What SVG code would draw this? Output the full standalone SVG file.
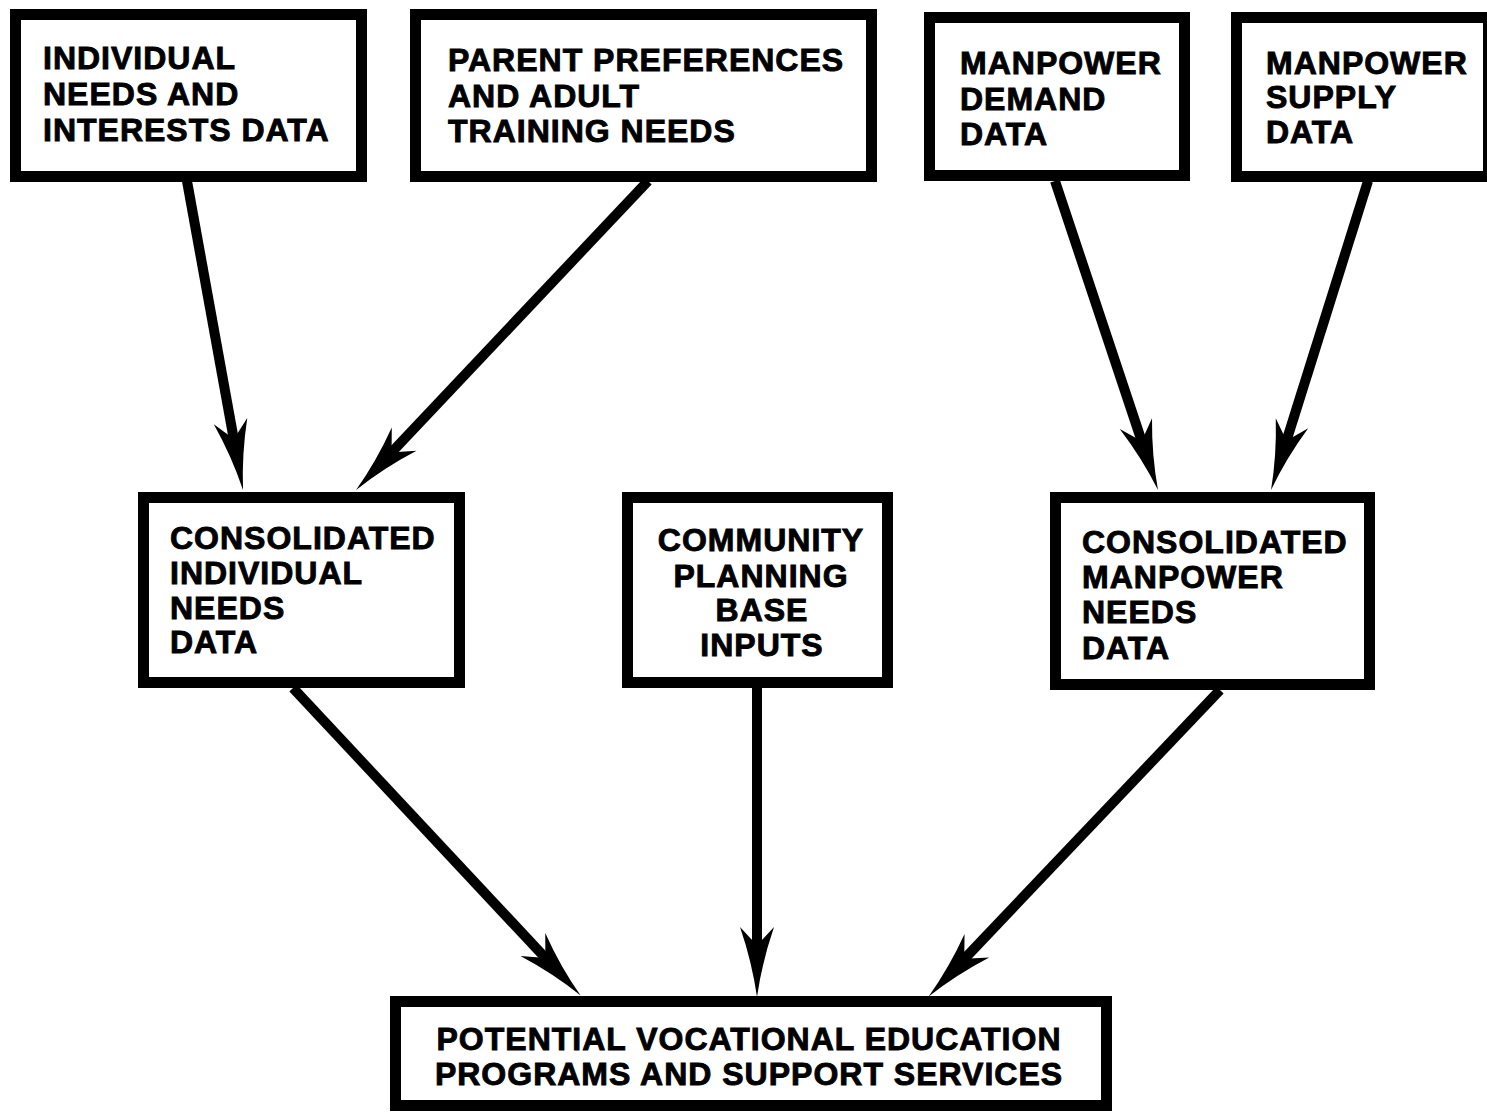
<svg xmlns="http://www.w3.org/2000/svg" width="1487" height="1112" viewBox="0 0 1487 1112">
  <style>
    .box { fill: #fff; stroke: #000; stroke-width: 11; }
    .lbl { font-family: "Liberation Sans", Arial, Helvetica, sans-serif; font-weight: bold; font-size: 32px; letter-spacing: 1px; fill: #000; stroke: #000; stroke-width: 0.9; }
    .mid { text-anchor: middle; }
    .conn { stroke: #000; stroke-width: 10; fill: none; marker-end: url(#barb); }
  </style>
  <defs>
    <marker id="barb" markerUnits="userSpaceOnUse" viewBox="-80 -20 85 40" refX="-50" refY="0" markerWidth="85" markerHeight="40" orient="auto" overflow="visible">
      <path d="M0,0 Q-35,-5 -70,-17 L-56,-4 L-56,4 L-70,17 Q-35,5 0,0 Z" fill="#000"/>
    </marker>
  </defs>
  <rect width="1487" height="1112" fill="#fff"/>

  <g id="connectors">
    <line class="conn" x1="187" y1="181" x2="234.1" y2="440.8"/>
    <line class="conn" x1="648" y1="181" x2="390.4" y2="453.6"/>
    <line class="conn" x1="1055" y1="181" x2="1142.2" y2="442.6"/>
    <line class="conn" x1="1368" y1="181" x2="1286" y2="442.3"/>
    <line class="conn" x1="293" y1="688" x2="546.5" y2="959.1"/>
    <line class="conn" x1="757" y1="688" x2="757" y2="947"/>
    <line class="conn" x1="1220" y1="690" x2="963.1" y2="960.2"/>
  </g>

  <g id="individual-needs">
    <rect class="box" x="15.5" y="14.5" width="346" height="162"/>
    <text class="lbl" x="43" y="69">INDIVIDUAL</text>
    <text class="lbl" x="43" y="105">NEEDS AND</text>
    <text class="lbl" x="43" y="141">INTERESTS DATA</text>
  </g>

  <g id="parent-preferences">
    <rect class="box" x="415.5" y="14.5" width="456" height="162"/>
    <text class="lbl" x="448" y="71">PARENT PREFERENCES</text>
    <text class="lbl" x="448" y="107">AND ADULT</text>
    <text class="lbl" x="448" y="142">TRAINING NEEDS</text>
  </g>

  <g id="manpower-demand">
    <rect class="box" x="929.5" y="17.5" width="255" height="158"/>
    <text class="lbl" x="960" y="74">MANPOWER</text>
    <text class="lbl" x="960" y="110">DEMAND</text>
    <text class="lbl" x="960" y="145">DATA</text>
  </g>

  <g id="manpower-supply">
    <rect class="box" x="1236.5" y="17.5" width="252" height="159"/>
    <text class="lbl" x="1266" y="74">MANPOWER</text>
    <text class="lbl" x="1266" y="108">SUPPLY</text>
    <text class="lbl" x="1266" y="143">DATA</text>
  </g>

  <g id="consolidated-individual">
    <rect class="box" x="143.5" y="497.5" width="316" height="185"/>
    <text class="lbl" x="170" y="549">CONSOLIDATED</text>
    <text class="lbl" x="170" y="584">INDIVIDUAL</text>
    <text class="lbl" x="170" y="619">NEEDS</text>
    <text class="lbl" x="170" y="653">DATA</text>
  </g>

  <g id="community-planning">
    <rect class="box" x="627.5" y="497.5" width="260" height="185"/>
    <text class="lbl mid" x="761" y="551">COMMUNITY</text>
    <text class="lbl mid" x="761" y="587">PLANNING</text>
    <text class="lbl mid" x="762" y="621">BASE</text>
    <text class="lbl mid" x="762" y="656">INPUTS</text>
  </g>

  <g id="consolidated-manpower">
    <rect class="box" x="1055.5" y="497.5" width="314" height="187"/>
    <text class="lbl" x="1082" y="553">CONSOLIDATED</text>
    <text class="lbl" x="1082" y="588">MANPOWER</text>
    <text class="lbl" x="1082" y="623">NEEDS</text>
    <text class="lbl" x="1082" y="659">DATA</text>
  </g>

  <g id="potential-programs">
    <rect class="box" x="395.5" y="1001.5" width="711" height="104"/>
    <text class="lbl mid" x="749" y="1050">POTENTIAL VOCATIONAL EDUCATION</text>
    <text class="lbl mid" x="749" y="1085">PROGRAMS AND SUPPORT SERVICES</text>
  </g>
</svg>
